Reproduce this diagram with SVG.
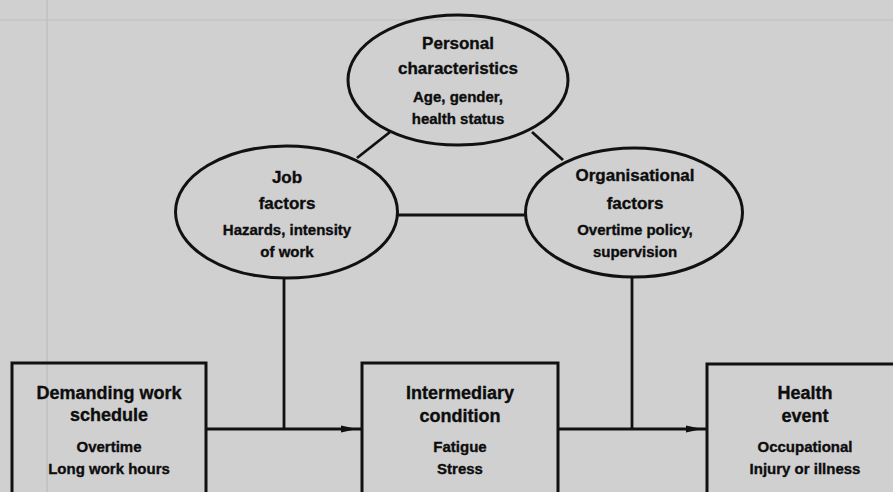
<svg xmlns="http://www.w3.org/2000/svg" width="893" height="492" viewBox="0 0 893 492">
  <style>
    .shape { fill: none; stroke: #111111; stroke-width: 3; }
    .conn { fill: none; stroke: #111111; stroke-width: 2.8; }
    .t { font-family: "Liberation Sans", Arial, sans-serif; font-weight: bold; fill: #0d0d0d; stroke: #0d0d0d; stroke-width: 0.35; text-anchor: middle; }
    .title { font-size: 17px; }
    .btitle { font-size: 18px; }
    .detail { font-size: 15px; }
    .page { stroke: #bdbdbd; stroke-width: 1.2; fill: none; }
  </style>
  <defs>
    <marker id="arrow" viewBox="0 0 22 8" refX="21" refY="4" markerWidth="22" markerHeight="8" markerUnits="userSpaceOnUse" orient="auto" overflow="visible">
      <path d="M0,0.5 L16,4 L0,7.5 z" fill="#111111"/>
    </marker>
  </defs>

  <rect x="0" y="0" width="893" height="492" fill="#d0d0d0"/>
  <path class="page" d="M0,20 H893 M47,0 V492"/>

  <g id="connectors">
    <path class="conn" d="M390,132 L357,158"/>
    <path class="conn" d="M532,132 L563,160"/>
    <path class="conn" d="M397,215 H526"/>
    <path class="conn" d="M284,278 V429"/>
    <path class="conn" d="M206,429 H362" marker-end="url(#arrow)"/>
    <path class="conn" d="M632,277 V429"/>
    <path class="conn" d="M558,429 H707" marker-end="url(#arrow)"/>
  </g>

  <g id="personal">
    <ellipse class="shape" cx="458" cy="80" rx="110" ry="65"/>
    <text class="t title" x="458" y="49">Personal</text>
    <text class="t title" x="458" y="74">characteristics</text>
    <text class="t detail" x="458" y="102">Age, gender,</text>
    <text class="t detail" x="458" y="124">health status</text>
  </g>

  <g id="job">
    <ellipse class="shape" cx="286.5" cy="212" rx="111" ry="66"/>
    <text class="t title" x="287" y="183">Job</text>
    <text class="t title" x="287" y="209">factors</text>
    <text class="t detail" x="287" y="235">Hazards, intensity</text>
    <text class="t detail" x="287" y="257">of work</text>
  </g>

  <g id="organisational">
    <ellipse class="shape" cx="634" cy="212.5" rx="108.5" ry="64.5"/>
    <text class="t title" x="635" y="181">Organisational</text>
    <text class="t title" x="635" y="209">factors</text>
    <text class="t detail" x="635" y="235">Overtime policy,</text>
    <text class="t detail" x="635" y="257">supervision</text>
  </g>

  <g id="schedule">
    <rect class="shape" x="12" y="363" width="194" height="140"/>
    <text class="t btitle" x="109" y="399">Demanding work</text>
    <text class="t btitle" x="109" y="421">schedule</text>
    <text class="t detail" x="109" y="452">Overtime</text>
    <text class="t detail" x="109" y="474">Long work hours</text>
  </g>

  <g id="intermediary">
    <rect class="shape" x="362" y="363" width="196" height="140"/>
    <text class="t btitle" x="460" y="399">Intermediary</text>
    <text class="t btitle" x="460" y="422">condition</text>
    <text class="t detail" x="460" y="452">Fatigue</text>
    <text class="t detail" x="460" y="474">Stress</text>
  </g>

  <g id="health">
    <rect class="shape" x="707" y="364" width="200" height="140"/>
    <text class="t btitle" x="805" y="399">Health</text>
    <text class="t btitle" x="805" y="422">event</text>
    <text class="t detail" x="805" y="452">Occupational</text>
    <text class="t detail" x="805" y="474">Injury or illness</text>
  </g>
</svg>
